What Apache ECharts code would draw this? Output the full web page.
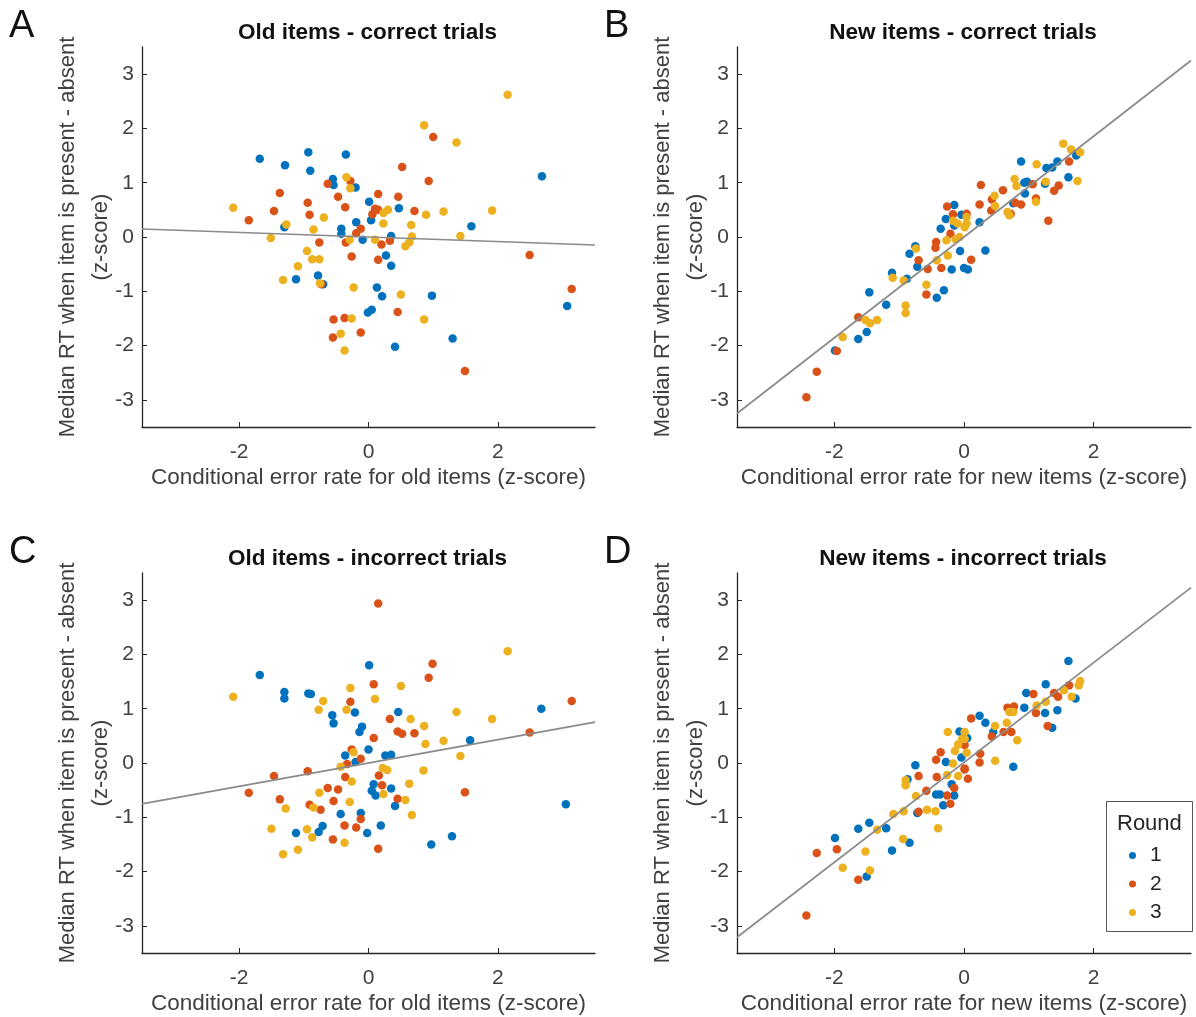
<!DOCTYPE html>
<html lang="en">
<head>
  <meta charset="UTF-8">
  <title>RT difference vs conditional error rate</title>
  <script src="https://cdn.jsdelivr.net/npm/echarts@6/dist/echarts.min.js"></script>
  <style>
    html, body { margin: 0; padding: 0; background: #fff; }
    #chart { width: 1196px; height: 1017px; }
  </style>
</head>
<body>
  <div id="chart"></div>

  <script>
    // round colours (matlab default order)
    var roundNames = ['1', '2', '3']
    var roundColors = ['#0072BD', '#D95319', '#EDB120']

    // A: old items - correct trials, [error rate z, RT diff z]
    var oldCorrectR1 = [[-1.68,1.44],[-1.29,1.32],[-0.93,1.56],[-0.90,1.22],[-0.35,1.52],[-0.55,1.07],[-0.54,0.96],[-0.20,0.91],[0.01,0.65],[0.04,0.31],[-0.19,0.27],[-0.42,0.15],[-0.42,0.06],[-1.30,0.18],[-0.09,-0.05],[0.47,0.53],[0.35,0.02],[0.27,-0.34],[0.35,-0.53],[1.59,0.20],[2.68,1.12],[3.07,-1.27],[0.98,-1.08],[1.30,-1.87],[0.41,-2.02],[0.13,-0.93],[0.21,-1.09],[0.05,-1.34],[-0.01,-1.39],[-1.12,-0.78],[-0.78,-0.71],[-0.70,-0.87]]
    var oldCorrectR2 = [[-1.85,0.31],[-1.46,0.48],[-1.37,0.81],[-0.94,0.63],[-0.91,0.41],[-0.63,0.98],[-0.47,0.74],[-0.36,0.55],[-0.28,1.03],[-0.76,-0.10],[-0.35,-0.10],[-0.26,-0.36],[-0.19,0.07],[-0.12,0.15],[-0.73,-0.87],[-0.54,-1.52],[-0.37,-1.49],[-0.55,-1.85],[-0.12,-1.76],[0.06,0.42],[0.10,0.52],[0.15,0.50],[0.15,0.79],[0.46,0.74],[0.52,1.29],[0.93,1.03],[1.00,1.84],[0.71,0.48],[0.20,-0.14],[0.33,-0.07],[0.15,-0.42],[0.45,-1.38],[1.49,-2.47],[2.49,-0.33],[3.14,-0.96]]
    var oldCorrectR3 = [[-2.09,0.54],[-1.27,0.23],[-1.51,-0.02],[-1.32,-0.79],[-1.09,-0.54],[-0.95,-0.26],[-0.87,-0.41],[-0.76,-0.41],[-0.85,0.14],[-0.69,0.36],[-0.75,-0.85],[-0.34,1.10],[-0.28,0.90],[-0.29,-0.05],[-0.23,-0.93],[-0.26,-1.50],[-0.43,-1.78],[-0.37,-2.09],[0.10,-0.05],[0.23,0.25],[0.23,0.44],[0.30,0.50],[0.66,0.22],[0.67,0.01],[0.57,-0.17],[0.63,-0.10],[0.89,0.41],[1.16,0.47],[0.50,-1.06],[0.86,-1.52],[0.86,2.06],[1.36,1.74],[2.15,2.62],[1.91,0.49],[1.42,0.02]]

    // B: new items - correct trials
    var newCorrectR1 = [[-1.99,-2.09],[-1.63,-1.88],[-1.50,-1.75],[-1.46,-1.02],[-1.20,-1.25],[-1.11,-0.66],[-0.88,-0.77],[-0.84,-0.31],[-0.75,-0.17],[-0.72,-0.55],[-0.42,-1.12],[-0.31,-0.98],[-0.36,0.15],[-0.28,0.33],[-0.15,0.59],[-0.15,0.21],[-0.19,-0.60],[-0.06,-0.26],[0.0,-0.57],[-0.04,0.41],[0.06,-0.60],[0.33,-0.25],[0.24,0.27],[0.76,0.62],[0.88,1.39],[0.93,1.00],[0.97,1.02],[0.94,0.80],[1.25,0.98],[1.27,1.27],[1.36,1.28],[1.44,1.39],[1.61,1.10],[1.73,1.50]]
    var newCorrectR2 = [[-2.43,-2.95],[-2.27,-2.48],[-1.96,-2.10],[-1.63,-1.48],[-0.70,-0.43],[-0.56,-0.59],[-0.58,-1.06],[-0.43,-0.09],[-0.44,-0.20],[-0.35,-0.57],[-0.26,0.56],[-0.17,0.42],[-0.21,0.06],[0.04,0.43],[0.11,-0.42],[0.26,0.96],[0.24,0.60],[0.43,0.69],[0.42,0.49],[0.60,0.86],[0.72,0.43],[0.79,0.63],[0.88,0.60],[1.06,0.97],[1.11,0.71],[1.30,0.30],[1.39,0.85],[1.46,0.95],[1.62,1.39]]
    var newCorrectR3 = [[-1.87,-1.84],[-1.52,-1.53],[-1.45,-1.59],[-1.34,-1.53],[-1.10,-0.75],[-0.93,-0.80],[-0.90,-1.26],[-0.90,-1.40],[-0.74,-0.21],[-0.58,-0.88],[-0.42,-0.43],[-0.25,-0.34],[-0.27,-0.06],[-0.17,0.30],[-0.10,0.25],[-0.13,-0.04],[-0.07,0.0],[0.01,0.18],[0.04,0.37],[0.04,0.25],[0.47,0.76],[0.48,0.57],[0.67,0.46],[0.70,0.40],[0.78,1.07],[0.81,0.94],[1.12,1.34],[1.11,0.65],[1.26,1.02],[1.53,1.72],[1.65,1.61],[1.79,1.56],[1.75,1.03]]

    // C: old items - incorrect trials
    var oldIncorrectR1 = [[-1.68,1.62],[-1.30,1.31],[-1.30,1.19],[-0.93,1.28],[-0.89,1.27],[-0.56,0.88],[-0.54,0.73],[-0.21,0.93],[-0.10,0.67],[-0.14,0.57],[0.01,1.80],[0.0,0.25],[-0.36,0.14],[-0.20,0.02],[-0.43,-0.94],[-0.12,-0.92],[-0.02,-1.29],[-0.71,-1.16],[-0.77,-1.27],[-1.12,-1.29],[0.46,0.94],[0.26,0.14],[0.35,0.15],[1.57,0.42],[2.67,1.00],[0.08,-0.39],[0.05,-0.51],[0.11,-0.60],[0.35,-0.47],[0.41,-0.79],[0.19,-1.15],[0.97,-1.50],[1.29,-1.35],[3.05,-0.76]]
    var oldIncorrectR2 = [[-1.85,-0.55],[-1.46,-0.24],[-1.37,-0.67],[-0.94,-0.15],[-0.91,-0.77],[-0.74,-0.86],[-0.63,-0.46],[-0.54,-0.70],[-0.47,-0.49],[-0.55,-1.41],[-0.37,-1.15],[-0.19,-1.19],[-0.12,-1.03],[-0.36,-0.26],[-0.33,-0.02],[-0.26,0.25],[-0.12,0.08],[-0.28,1.13],[0.08,1.45],[0.08,0.46],[0.15,2.94],[0.99,1.83],[0.93,1.57],[0.33,0.81],[0.45,0.58],[0.52,0.54],[0.71,0.55],[0.16,-0.23],[0.21,-0.41],[0.45,-0.66],[1.49,-0.54],[2.49,0.56],[3.14,1.14],[0.15,-1.58]]
    var oldIncorrectR3 = [[-2.09,1.22],[-0.70,1.14],[-0.77,0.98],[-0.28,1.38],[-0.34,0.98],[-0.23,0.20],[-0.43,-0.07],[-0.26,-0.34],[-0.29,-0.72],[-0.76,-0.55],[-0.85,-0.82],[-1.28,-0.84],[-1.50,-1.21],[-0.95,-1.22],[-0.87,-1.37],[-0.37,-1.47],[-1.09,-1.60],[-1.32,-1.68],[0.10,1.18],[0.50,1.42],[0.65,0.81],[0.86,0.68],[0.88,0.35],[1.16,0.41],[1.36,0.94],[1.91,0.81],[2.15,2.06],[1.42,0.13],[0.85,-0.14],[0.22,-0.09],[0.29,-0.13],[0.63,-0.38],[0.23,-0.57],[0.57,-0.68],[0.67,-0.96]]

    // D: new items - incorrect trials
    var newIncorrectR1 = [[-1.99,-1.38],[-1.63,-1.21],[-1.46,-1.10],[-1.50,-2.09],[-1.20,-1.20],[-1.11,-1.61],[-0.84,-1.47],[-0.87,-0.30],[-0.75,-0.04],[-0.28,0.02],[-0.43,-0.58],[-0.37,-0.58],[-0.32,-0.78],[-0.19,-0.39],[-0.15,-0.60],[-0.07,0.58],[-0.04,0.10],[-0.72,-0.92],[0.05,0.46],[0.24,0.87],[0.33,0.74],[0.45,0.57],[0.76,-0.07],[0.93,1.02],[0.96,1.29],[1.26,1.45],[1.25,0.92],[1.44,0.97],[1.36,0.65],[1.61,1.88],[1.72,1.19]]
    var newIncorrectR2 = [[-2.43,-2.81],[-2.27,-1.66],[-1.96,-1.59],[-1.63,-2.15],[-0.70,-0.24],[-0.58,-0.51],[-0.70,-0.90],[-0.43,0.06],[-0.36,0.20],[-0.42,-0.26],[-0.26,-0.60],[-0.21,-0.75],[-0.15,-0.46],[0.01,-0.10],[0.11,0.82],[0.01,0.33],[0.01,-0.12],[0.06,-0.29],[0.25,0.17],[0.24,0.01],[0.43,0.49],[0.61,0.57],[0.73,0.57],[0.67,1.02],[0.77,1.04],[1.07,1.27],[1.11,0.92],[1.29,0.68],[1.39,1.29],[1.45,1.22],[1.62,1.43]]
    var newIncorrectR3 = [[-1.87,-1.93],[-1.52,-1.63],[-1.45,-1.98],[-1.34,-1.23],[-1.09,-0.94],[-0.93,-0.89],[-0.94,-1.40],[-0.90,-0.32],[-0.90,-0.41],[-0.74,-0.61],[-0.57,-0.86],[-0.44,-0.89],[-0.40,-1.20],[-0.26,-0.22],[-0.25,0.57],[-0.17,-0.01],[-0.14,0.22],[-0.09,0.34],[-0.09,-0.24],[-0.03,0.44],[0.01,0.57],[0.01,0.44],[0.04,0.19],[0.48,0.68],[0.48,0.04],[0.66,0.74],[0.70,0.94],[0.82,0.42],[0.76,0.94],[1.12,1.06],[1.26,1.13],[1.54,1.34],[1.66,1.22],[1.77,1.43],[1.79,1.51]]

    // least squares lines: [slope, intercept]
    var fitOldCorrect = [-0.042, 0.0]
    var fitNewCorrect = [0.929, 0.0]
    var fitOldIncorrect = [0.215, 0.0]
    var fitNewIncorrect = [0.92, 0.01]

    var axisRange = [-3.5, 3.5]
    var xTicks = [-2, 0, 2]
    var yTicks = [-3, -2, -1, 0, 1, 2, 3]

    var panels = [
      { letter: 'A', title: 'Old items - correct trials', xName: 'Conditional error rate for old items (z-score)',
        rounds: [oldCorrectR1, oldCorrectR2, oldCorrectR3], fit: fitOldCorrect },
      { letter: 'B', title: 'New items - correct trials', xName: 'Conditional error rate for new items (z-score)',
        rounds: [newCorrectR1, newCorrectR2, newCorrectR3], fit: fitNewCorrect },
      { letter: 'C', title: 'Old items - incorrect trials', xName: 'Conditional error rate for old items (z-score)',
        rounds: [oldIncorrectR1, oldIncorrectR2, oldIncorrectR3], fit: fitOldIncorrect },
      { letter: 'D', title: 'New items - incorrect trials', xName: 'Conditional error rate for new items (z-score)',
        rounds: [newIncorrectR1, newIncorrectR2, newIncorrectR3], fit: fitNewIncorrect }
    ]

    // layout of the 2x2 panels
    var gridPos = [
      { left: 142, top: 47, width: 453, height: 380 },
      { left: 737, top: 47, width: 454, height: 380 },
      { left: 142, top: 573, width: 453, height: 380 },
      { left: 737, top: 573, width: 454, height: 380 }
    ]

    var font = '"Liberation Sans", Arial, Helvetica, sans-serif'
    var axisColor = '#262626'
    var textColor = '#404040'

    var grids = [], xAxes = [], yAxes = [], series = [], titles = [], graphics = []

    panels.forEach(function (p, i) {
      var g = gridPos[i]
      grids.push({ left: g.left, top: g.top, width: g.width, height: g.height, containLabel: false })

      xAxes.push({
        gridIndex: i, type: 'value', min: axisRange[0], max: axisRange[1],
        name: p.xName, nameLocation: 'middle', nameGap: 39, nameMoveOverlap: false,
        nameTextStyle: { fontSize: 22.5, color: textColor, fontFamily: font },
        splitLine: { show: false },
        axisLine: { show: true, onZero: false, lineStyle: { color: axisColor, width: 1.3 } },
        axisTick: { show: true, inside: true, length: 5, customValues: xTicks, lineStyle: { color: axisColor } },
        axisLabel: { customValues: xTicks, fontSize: 21, color: textColor, fontFamily: font, margin: 15 }
      })

      yAxes.push({
        gridIndex: i, type: 'value', min: axisRange[0], max: axisRange[1],
        name: 'Median RT when item is present - absent\n(z-score)',
        nameLocation: 'middle', nameRotate: 90, nameGap: 25, nameMoveOverlap: false,
        nameTextStyle: { fontSize: 22, color: textColor, fontFamily: font, lineHeight: 33 },
        splitLine: { show: false },
        axisLine: { show: true, onZero: false, lineStyle: { color: axisColor, width: 1.3 } },
        axisTick: { show: true, inside: true, length: 5, customValues: yTicks, lineStyle: { color: axisColor } },
        axisLabel: { customValues: yTicks, fontSize: 21, color: textColor, fontFamily: font, margin: 8 }
      })

      p.rounds.forEach(function (pts, r) {
        series.push({
          name: roundNames[r], type: 'scatter', xAxisIndex: i, yAxisIndex: i,
          data: pts, symbol: 'circle', symbolSize: 8.5,
          itemStyle: { color: roundColors[r], opacity: 1 },
          emphasis: { disabled: true }
        })
      })

      // fitted line across the full x range
      var fitLine = axisRange.map(function (x) { return [x, p.fit[0] * x + p.fit[1]] })
      series.push({
        type: 'line', xAxisIndex: i, yAxisIndex: i, data: fitLine,
        symbol: 'none', silent: true, z: 3,
        lineStyle: { color: '#8a8a8a', width: 1.7 }
      })

      titles.push({
        text: p.title, left: g.left + g.width / 2 - 6, top: g.top - 31, textAlign: 'center',
        textStyle: { fontSize: 22.5, fontWeight: 'bold', color: '#111', fontFamily: font }
      })

      graphics.push({
        type: 'text', left: g.left - 133, top: g.top - 39,
        style: { text: p.letter, fontSize: 38, fill: '#111', fontFamily: font }
      })
    })

    // legend box with title "Round"
    graphics.push({
      type: 'rect', left: 1106, top: 801,
      shape: { width: 86, height: 130 },
      style: { fill: '#fff', stroke: '#555', lineWidth: 1 }, z: 1
    })
    graphics.push({
      type: 'text', left: 1117, top: 813, z: 2,
      style: { text: 'Round', fontSize: 22, fill: '#262626', fontFamily: font }
    })

    var chart = echarts.init(document.getElementById('chart'))
    chart.setOption({
      animation: false,
      backgroundColor: '#fff',
      title: titles,
      grid: grids,
      xAxis: xAxes,
      yAxis: yAxes,
      graphic: graphics,
      legend: {
        data: roundNames, orient: 'vertical', left: 1129, top: 845, z: 5, padding: 0,
        icon: 'circle', itemWidth: 7, itemHeight: 7, itemGap: 7.5,
        textStyle: { fontSize: 21, lineHeight: 21, color: '#262626', fontFamily: font, padding: [0, 0, 0, 9] },
        selectedMode: false
      },
      series: series
    })
  </script>
</body>
</html>
